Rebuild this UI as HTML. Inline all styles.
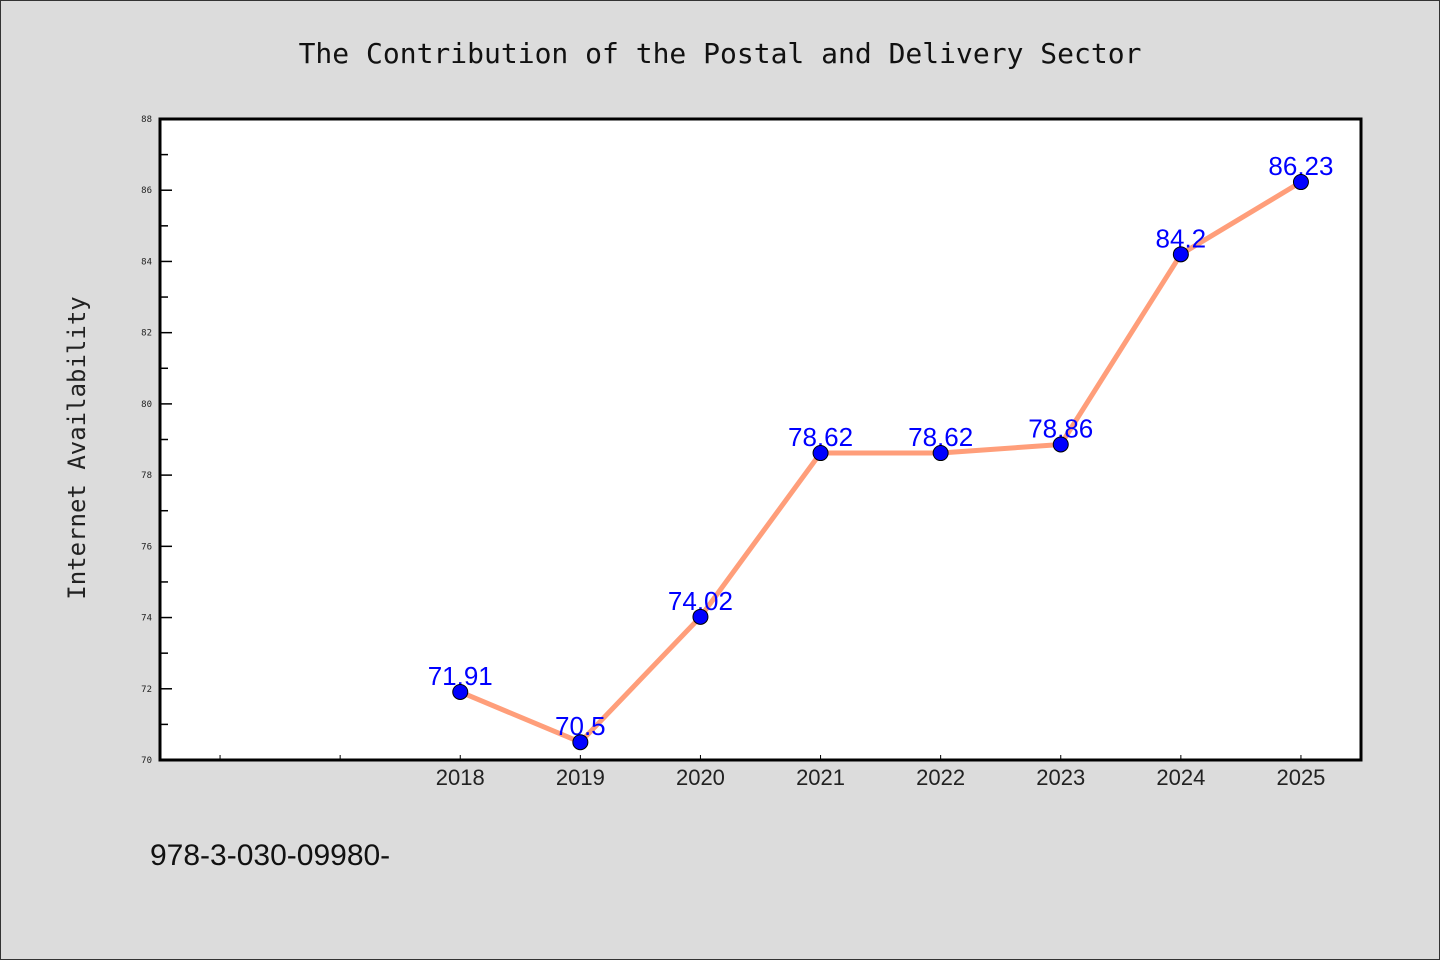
<!DOCTYPE html>
<html><head><meta charset="utf-8"><style>
body{margin:0;background:#dcdcdc;}
svg{display:block;font-family:"DejaVu Sans Mono","Liberation Mono",monospace;}
</style></head><body>
<svg width="1440" height="960">
<rect x="0.5" y="0.5" width="1439" height="959" fill="#dcdcdc" stroke="#333"/>
<text x="720" y="63" text-anchor="middle" font-size="28" fill="#111">The Contribution of the Postal and Delivery Sector</text>
<rect x="160" y="119" width="1201" height="641" fill="#fff" stroke="#000" stroke-width="3"/>
<text transform="translate(85,448) rotate(-90)" text-anchor="middle" font-size="24" fill="#222">Internet Availability</text>
<text x="150" y="865" font-size="30" fill="#111" font-family="Liberation Sans, sans-serif">978-3-030-09980-</text>
<g id="axes"></g><g id="series"></g>
</svg>
<script>
const categories=["","","2018","2019","2020","2021","2022","2023","2024","2025"];
const values=[null,null,71.91,70.5,74.02,78.62,78.62,78.86,84.2,86.23];
const labels=["","","71.91","70.5","74.02","78.62","78.62","78.86","84.2","86.23"];
const yTicks=[70,72,74,76,78,80,82,84,86,88];
const NS="http://www.w3.org/2000/svg";
const x0=160,x1=1361,y0=760,y1=119,ymin=70,ymax=88;
const xs=i=>x0+(x1-x0)/categories.length*(i+0.5);
const ys=v=>y0-(v-ymin)/(ymax-ymin)*(y0-y1);
function mk(t,a,p){const e=document.createElementNS(NS,t);for(const k in a)e.setAttribute(k,a[k]);p.appendChild(e);return e;}
const ax=document.getElementById('axes'),se=document.getElementById('series');
yTicks.forEach(v=>{
 const y=ys(v);
 const t=mk('line',{x1:x0,x2:x0+12,y1:y,y2:y,stroke:'#000','stroke-width':1.5},ax);
 
 
 const l=mk('text',{x:x0-8,y:y+3,'text-anchor':'end','font-size':9,fill:'#222'},ax);
 l.textContent=v;
 
 
 if(v<ymax){const m=mk('line',{x1:x0,x2:x0+8,y1:ys(v+1),y2:ys(v+1),stroke:'#000','stroke-width':1.5},ax);
 
 }
});
categories.forEach((c,i)=>{
 const x=xs(i);
 const t=mk('line',{x1:x,x2:x,y1:y0,y2:y0-5,stroke:'#000','stroke-width':1},ax);
 
 
 const l=mk('text',{x:x,y:y0+25,'text-anchor':'middle','font-size':22,fill:'#222','font-family':'Liberation Sans, sans-serif'},ax);
 l.textContent=c;
 
 
});
const pts=[];values.forEach((v,i)=>{if(v!=null)pts.push([xs(i),ys(v),i]);});
const line=mk('polyline',{points:pts.map(p=>p[0]+','+p[1]).join(' '),fill:'none',stroke:'#ff9e7a','stroke-width':5,'stroke-linejoin':'round'},se);


pts.forEach(p=>{
 const l=mk('text',{x:p[0],y:p[1]-7,'text-anchor':'middle','font-size':26,fill:'#0000ff','font-family':'Liberation Sans, sans-serif'},se);
 l.textContent=labels[p[2]];
 
 
});
pts.forEach(p=>{
 const c=mk('circle',{cx:p[0],cy:p[1],r:7.5,fill:'#0000ff',stroke:'#000','stroke-width':1},se);
 
 
});
</script>
</body></html>
